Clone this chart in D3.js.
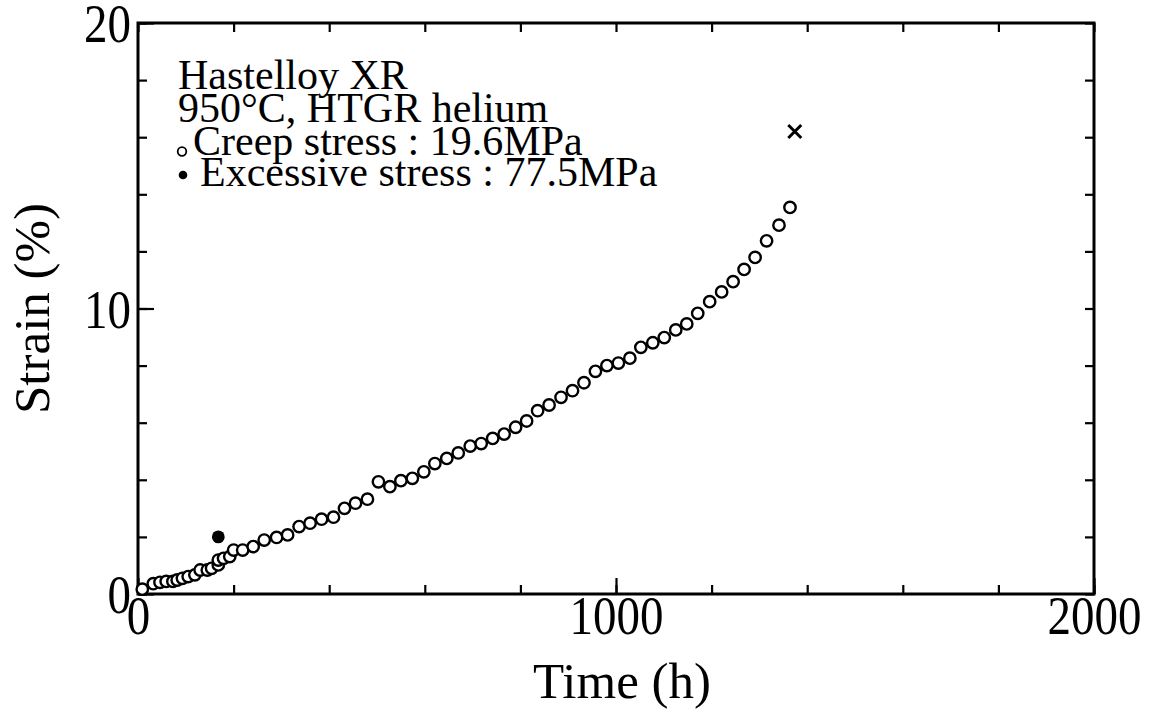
<!DOCTYPE html>
<html>
<head>
<meta charset="utf-8">
<script src="https://cdn.jsdelivr.net/npm/d3@7"></script>
<style>
  html, body { margin: 0; padding: 0; background: #fff; }
  svg { display: block; }
  text { font-family: "Liberation Serif", "Times New Roman", serif; fill: #000; }
</style>
</head>
<body>
<svg id="chart" width="1153" height="710"></svg>
<script>
// Creep curve of Hastelloy XR at 950 °C in HTGR helium (19.6 MPa)
const creepTime = [
  9, 32, 46, 59, 73, 82, 93, 105, 119, 130, 145, 154, 168, 168, 179, 192,
  200, 219, 241, 264, 290, 313, 337, 360, 384, 409, 432, 455, 480, 503,
  527, 550, 574, 598, 621, 646, 670, 695, 718, 742, 766, 790, 813, 836,
  860, 885, 909, 933, 957, 981, 1005, 1029, 1052, 1077, 1101, 1125, 1148,
  1171, 1196, 1221, 1245, 1268, 1291, 1315, 1341, 1364
];
const creepStrain = [
  0.17, 0.36, 0.41, 0.44, 0.44, 0.49, 0.55, 0.61, 0.67, 0.84, 0.84, 0.90, 1.02, 1.19, 1.25, 1.31,
  1.54, 1.54, 1.66, 1.89, 1.98, 2.07, 2.36, 2.48, 2.62, 2.69, 3.00, 3.18, 3.32, 3.93,
  3.76, 3.97, 4.05, 4.28, 4.57, 4.75, 4.94, 5.18, 5.27, 5.45, 5.60, 5.84, 6.06, 6.42,
  6.62, 6.89, 7.12, 7.40, 7.80, 8.00, 8.09, 8.26, 8.64, 8.80, 8.98, 9.25, 9.46,
  9.83, 10.24, 10.58, 10.94, 11.37, 11.79, 12.37, 12.92, 13.54
];

// Strain after the excessive-stress loading (77.5 MPa)
const excessTime = [168];
const excessStrain = [2.0];

// Rupture
const ruptureTime = [1374];
const ruptureStrain = [16.2];

// Axis ticks
const xMajorTicks = [0, 1000, 2000];
const xMinorTicks = d3.range(0, 2001, 200);
const yMajorTicks = [0, 10, 20];
const yMinorTicks = d3.range(0, 21, 2);

const xTitle = "Time (h)";
const yTitle = "Strain (%)";
const legendLines = [
  "Hastelloy XR",
  "950°C, HTGR helium",
  "Creep stress : 19.6MPa",
  "Excessive stress : 77.5MPa"
];

const svg = d3.select("#chart");
const plot = { left: 138, right: 1094, top: 23, bottom: 594 };

const x = d3.scaleLinear().domain([0, 2000]).range([plot.left, plot.right]);
const y = d3.scaleLinear().domain([0, 20]).range([plot.bottom, plot.top]);

const STRETCH = 1.15;   // tall serif digits

function styleAxis(g) {
  g.select(".domain").remove();
  g.selectAll(".tick line").attr("stroke", "#000").attr("stroke-width", 2.2);
}

// minor ticks, pointing inward on all four sides
svg.append("g").attr("transform", `translate(0,${plot.bottom})`)
  .call(d3.axisBottom(x).tickValues(xMinorTicks).tickSize(-9).tickFormat(""))
  .call(styleAxis);
svg.append("g").attr("transform", `translate(0,${plot.top})`)
  .call(d3.axisTop(x).tickValues(xMinorTicks).tickSize(-9).tickFormat(""))
  .call(styleAxis);
svg.append("g").attr("transform", `translate(${plot.left},0)`)
  .call(d3.axisLeft(y).tickValues(yMinorTicks).tickSize(-9).tickFormat(""))
  .call(styleAxis);
svg.append("g").attr("transform", `translate(${plot.right},0)`)
  .call(d3.axisRight(y).tickValues(yMinorTicks).tickSize(-9).tickFormat(""))
  .call(styleAxis);

// major ticks with labels
const gx = svg.append("g").attr("transform", `translate(0,${plot.bottom})`)
  .call(d3.axisBottom(x).tickValues(xMajorTicks).tickSize(-16).tickFormat(d3.format("d")))
  .call(styleAxis);
gx.selectAll(".tick text")
  .attr("font-size", 47)
  .attr("font-family", "Liberation Serif")
  .attr("y", 40 / STRETCH)
  .attr("dy", 0)
  .attr("transform", `scale(1,${STRETCH})`);

const gy = svg.append("g").attr("transform", `translate(${plot.left},0)`)
  .call(d3.axisLeft(y).tickValues(yMajorTicks).tickSize(-16).tickFormat(d3.format("d")))
  .call(styleAxis);
gy.selectAll(".tick text")
  .attr("font-size", 47)
  .attr("font-family", "Liberation Serif")
  .attr("x", -7)
  .attr("y", 0)
  .attr("dy", "0.35em")
  .attr("transform", `scale(1,${STRETCH})`);

// frame
svg.append("rect")
  .attr("x", plot.left).attr("y", plot.top)
  .attr("width", plot.right - plot.left).attr("height", plot.bottom - plot.top)
  .attr("fill", "none").attr("stroke", "#000").attr("stroke-width", 3);

// axis titles
svg.append("text")
  .attr("x", (plot.left + plot.right) / 2 + 6).attr("y", 698)
  .attr("text-anchor", "middle").attr("font-size", 51)
  .text(xTitle);
svg.append("text")
  .attr("transform", `translate(49,${(plot.top + plot.bottom) / 2}) rotate(-90)`)
  .attr("text-anchor", "middle").attr("font-size", 51)
  .text(yTitle);

// creep data
const creep = creepTime.map((t, i) => ({ t, s: creepStrain[i] }));
svg.append("g").selectAll("circle").data(creep).join("circle")
  .attr("cx", d => x(d.t)).attr("cy", d => y(d.s)).attr("r", 5.7)
  .attr("fill", "#fff").attr("stroke", "#000").attr("stroke-width", 2.4);

// excessive stress point
const excess = excessTime.map((t, i) => ({ t, s: excessStrain[i] }));
svg.append("g").selectAll("circle").data(excess).join("circle")
  .attr("cx", d => x(d.t)).attr("cy", d => y(d.s)).attr("r", 6.4)
  .attr("fill", "#000");

// rupture mark
const rupture = ruptureTime.map((t, i) => ({ t, s: ruptureStrain[i] }));
svg.append("g").selectAll("path").data(rupture).join("path")
  .attr("d", d => {
    const cx = x(d.t), cy = y(d.s), h = 6.5;
    return `M${cx - h},${cy - h}L${cx + h},${cy + h}M${cx - h},${cy + h}L${cx + h},${cy - h}`;
  })
  .attr("stroke", "#000").attr("stroke-width", 3).attr("fill", "none");

// legend / annotation block
const legend = svg.append("g");
const baselines = [89, 122, 155, 186];
const textX = [178, 178, 193, 200];
legend.selectAll("text").data(legendLines).join("text")
  .attr("x", (d, i) => textX[i]).attr("y", (d, i) => baselines[i])
  .attr("font-size", 42)
  .text(d => d);
legend.append("circle")
  .attr("cx", 182).attr("cy", 151.5).attr("r", 4.3)
  .attr("fill", "#fff").attr("stroke", "#000").attr("stroke-width", 1.8);
legend.append("circle")
  .attr("cx", 183).attr("cy", 175).attr("r", 4.3)
  .attr("fill", "#000");
</script>
</body>
</html>
